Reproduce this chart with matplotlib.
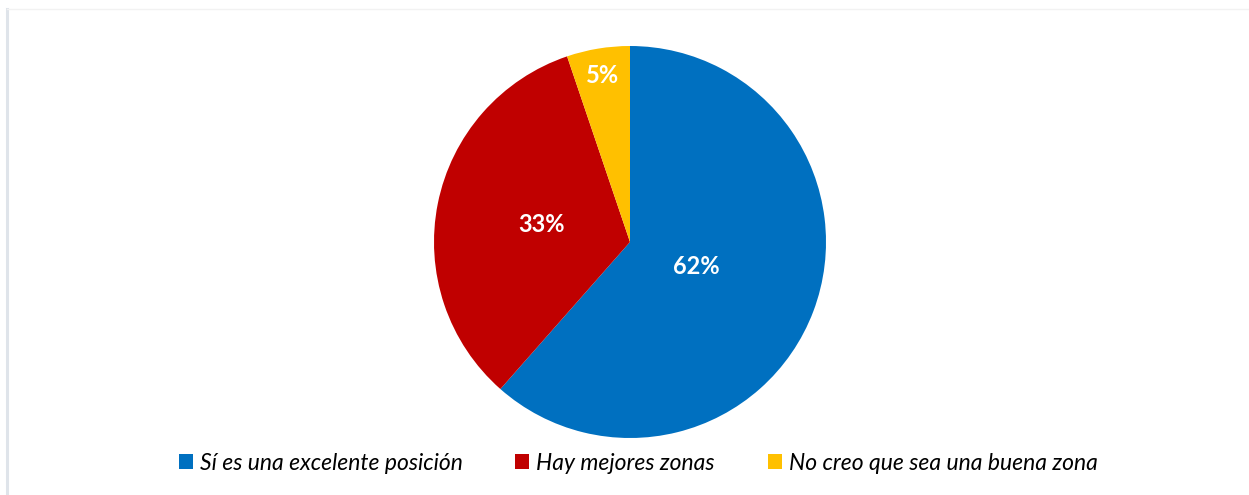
import numpy as np
import matplotlib
matplotlib.use("Agg")
import matplotlib.pyplot as plt
from matplotlib.patches import Patch
from matplotlib.lines import Line2D

categories = ["Sí es una excelente posición", "Hay mejores zonas", "No creo que sea una buena zona"]
values = [61.5, 33.3, 5.2]
colors = ["#0070C0", "#C00000", "#FFC000"]
label_dist = [0.36, 0.46, 0.86]  # how far from the centre each % label sits

plt.rcParams['font.family'] = ['Lato', 'DejaVu Sans']

W, H = 1249, 495
fig = plt.figure(figsize=(W / 100, H / 100), dpi=100)

# pie axes placed in pixels: centre (630, 242), radius 196
cx, cy, r = 630, 242, 196
ax = fig.add_axes([(cx - r) / W, (H - cy - r) / H, 2 * r / W, 2 * r / H])
wedges, _ = ax.pie(values, colors=colors, startangle=90, counterclock=False,
                   radius=1, wedgeprops=dict(linewidth=0))
ax.set_xlim(-1, 1)
ax.set_ylim(-1, 1)
ax.set_aspect('equal')
ax.axis('off')

for w, v, d in zip(wedges, values, label_dist):
    ang = np.deg2rad((w.theta1 + w.theta2) / 2)
    ax.text(d * np.cos(ang), d * np.sin(ang), f"{v:.0f}%", color='white',
            fontsize=17, fontweight='bold', ha='center', va='center')

handles = [Patch(facecolor=c, edgecolor='none') for c in colors]
fig.legend(handles, categories, loc='center', bbox_to_anchor=(638 / W, 1 - 463 / H),
           ncol=3, frameon=False, handlelength=0.62, handleheight=0.62,
           handletextpad=0.3, columnspacing=2.3,
           prop=dict(family=['Lato', 'DejaVu Sans'], style='italic', size=16.5))

# faint frame lines on the left and top
fig.add_artist(Line2D([7 / W, 7 / W], [0, 1 - 9 / H], color='#dfe4ea', linewidth=2.2))
fig.add_artist(Line2D([7 / W, 1], [1 - 9 / H, 1 - 9 / H], color='#f2f2f2', linewidth=1))

fig.savefig('out.png', dpi=100)
